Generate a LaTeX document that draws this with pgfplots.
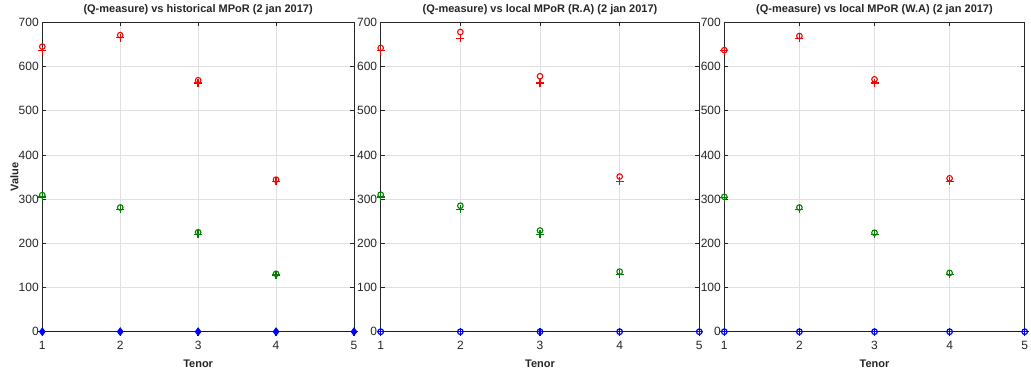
\documentclass[border=0pt]{standalone}
\usepackage{fontspec}
\setmainfont{Liberation Sans}
\usepackage{pgfplots}
\pgfplotsset{compat=1.18}
\definecolor{mgreen}{rgb}{0,0.5,0}
\definecolor{axgray}{rgb}{0.15,0.15,0.15}
\definecolor{gridgray}{rgb}{0.88,0.88,0.88}
\pgfplotsset{
  panel/.style={
    scale only axis, anchor=south west, height=309.4pt,
    xmin=1, xmax=5, ymin=0, ymax=700,
    xtick={1,2,3,4,5}, ytick={0,100,...,700},
    grid=major, major grid style={gridgray, line width=0.6pt},
    axis line style={axgray, line width=0.8pt},
    tick style={axgray, line width=0.6pt}, tick align=inside, major tick length=4pt,
    ticklabel style={font=\fontsize{12}{14}\selectfont, text=axgray},
    /pgf/number format/assume math mode=true,
    xticklabel style={anchor=base, yshift=-18.3pt},
    title style={at={(axis description cs:0.5,1)}, anchor=base, yshift=4.3pt, font=\bfseries\fontsize{11}{13}\selectfont, text=axgray},
    xlabel={Tenor},
    xlabel style={at={(axis description cs:0.5,0)}, anchor=base, yshift=-35.3pt, font=\bfseries\fontsize{11}{13}\selectfont, text=axgray},
    clip=false,
  },
  pl/.style={only marks, color=#1, mark=+, mark size=4pt, line width=1.4pt, mark options={draw=#1, solid, line width=1.4pt}},
  ci/.style={only marks, color=#1, mark=o, mark size=2.8pt, line width=1.1pt, mark options={draw=#1, solid, line width=1.1pt}},
}
\begin{document}
\begin{tikzpicture}
\useasboundingbox (0,0) rectangle (1031pt,372pt);
% Panel 1
\begin{axis}[panel, at={(42.3pt,40.3pt)}, width=311.7pt,
  title={(Q-measure) vs historical MPoR (2 jan 2017)},
  ylabel={Value},
  ylabel style={at={(axis description cs:-0.089,0.5)}, anchor=center, font=\bfseries\fontsize{11}{13}\selectfont, text=axgray}]
\addplot[pl=red] coordinates {(1,636) (2,665) (3,563) (4,340)};
\addplot[ci=red] coordinates {(1,645) (2,671) (3,569) (4,344)};
\addplot[pl=mgreen] coordinates {(1,305) (2,277) (3,220) (4,128)};
\addplot[ci=mgreen] coordinates {(1,309) (2,281) (3,225) (4,131)};
\addplot[blue, line width=1.2pt, mark=diamond*, mark size=3.5pt, mark options={blue, fill=blue}] coordinates {(1,0) (2,0) (3,0) (4,0) (5,0)};
\addplot[pl=blue] coordinates {(1,0) (2,0) (3,0) (4,0) (5,0)};
\end{axis}
% Panel 2
\begin{axis}[panel, at={(380.7pt,40.3pt)}, width=318.6pt,
  title={(Q-measure) vs local MPoR (R.A) (2 jan 2017)}]
\addplot[pl=red] coordinates {(1,636) (2,664) (3,563) (4,340)};
\addplot[ci=red] coordinates {(1,642) (2,678) (3,578) (4,351)};
\addplot[pl=mgreen] coordinates {(1,305) (2,277) (3,220) (4,130)};
\addplot[ci=mgreen] coordinates {(1,310) (2,285) (3,229) (4,136)};
\addplot[blue, line width=1.2pt, mark=o, mark size=2.8pt, mark options={blue}] coordinates {(1,0) (2,0) (3,0) (4,0) (5,0)};
\addplot[pl=blue] coordinates {(1,0) (2,0) (3,0) (4,0) (5,0)};
\end{axis}
% Panel 3
\begin{axis}[panel, at={(724.3pt,40.3pt)}, width=300.4pt,
  title={(Q-measure) vs local MPoR (W.A) (2 jan 2017)}]
\addplot[pl=red] coordinates {(1,636) (2,664) (3,563) (4,340)};
\addplot[ci=red] coordinates {(1,637) (2,669) (3,571) (4,347)};
\addplot[pl=mgreen] coordinates {(1,303) (2,277) (3,220) (4,130)};
\addplot[ci=mgreen] coordinates {(1,305) (2,281) (3,224) (4,133)};
\addplot[blue, line width=1.2pt, mark=o, mark size=2.8pt, mark options={blue}] coordinates {(1,0) (2,0) (3,0) (4,0) (5,0)};
\addplot[pl=blue] coordinates {(1,0) (2,0) (3,0) (4,0) (5,0)};
\end{axis}
\end{tikzpicture}
\end{document}
